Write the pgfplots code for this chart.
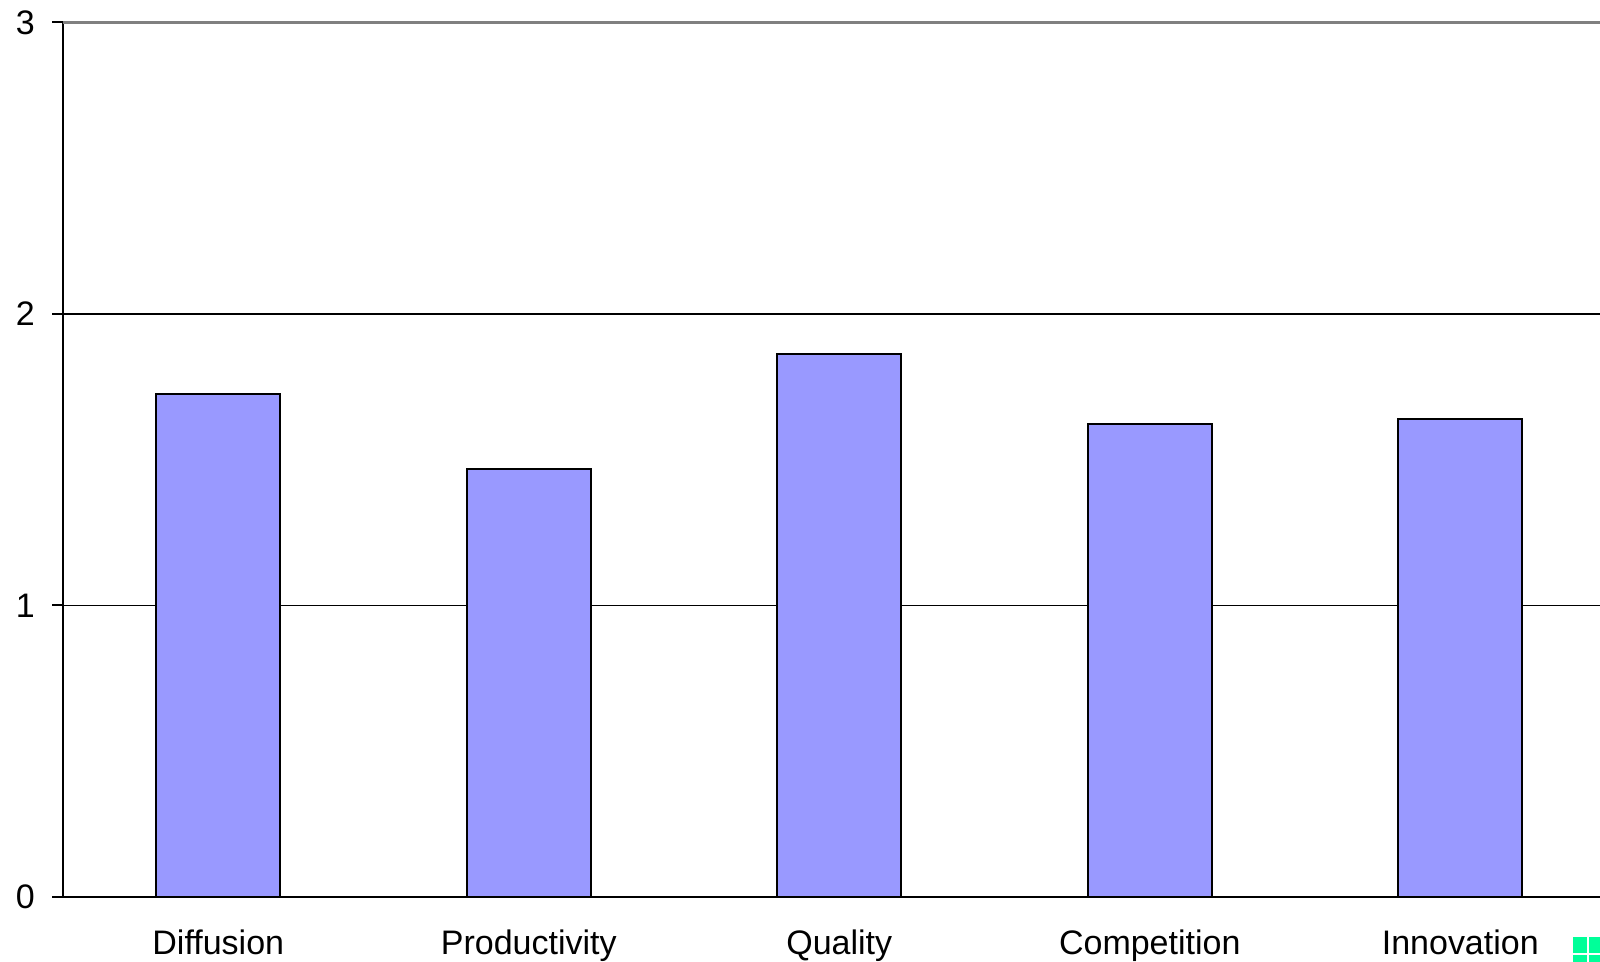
\documentclass[border=0pt]{standalone}
\usepackage{pgfplots}
\pgfplotsset{compat=1.18}
\usepackage{fontspec}
\setmainfont{Liberation Sans}

\definecolor{barfill}{HTML}{9999FF}
\definecolor{keygreen}{HTML}{00FF99}
\definecolor{frame}{HTML}{808080}

\begin{document}
\begin{tikzpicture}
% page size: 1 unit of the layout grid = 0.3pt
\useasboundingbox (0,0) rectangle (480pt,288.6pt);
\begin{axis}[
  at={(18.9pt,19.5pt)}, anchor=south west,
  scale only axis,
  width=461.1pt, height=262.35pt,
  xmin=-0.5, xmax=4.45,
  ymin=0, ymax=3,
  axis lines=left,
  axis line style={-, black, line width=0.6pt},
  clip=false,
  tick label style={font=\fontsize{10.2}{12}\selectfont},
  % category names under the bars
  xtick={0,1,2,3,4},
  xticklabels={Diffusion,Productivity,Quality,Competition,Innovation},
  x tick style={draw=none},
  xticklabel style={anchor=base, inner sep=0pt, yshift=-14.1pt},
  % tick marks at the category boundaries
  extra x ticks={-0.5,0.5,1.5,2.5,3.5},
  extra x tick labels={},
  extra x tick style={tick style={black, line width=0.6pt},
    major tick length=3pt, tick align=outside, grid=none},
  ytick={0,1,2},
  yticklabels={0,1,2},
  extra y ticks={3},
  extra y tick labels={3},
  extra y tick style={grid style={frame, line width=0.7pt}},
  y tick style={black, line width=0.6pt},
  major tick length=3.3pt,
  tick align=outside,
  yticklabel style={anchor=east, inner sep=0pt, xshift=-5pt},
  ymajorgrids=true,
  grid style={black, line width=0.5pt},
]
\addplot[ybar, bar width=0.4, fill=barfill, draw=black, line width=0.65pt]
  coordinates {(0,1.725) (1,1.469) (2,1.862) (3,1.622) (4,1.641)};
\end{axis}
% legend key at the lower right corner
\fill[keygreen] (471.9pt,7.5pt) rectangle (490pt,-5pt);
\draw[white, line width=0.4pt] (476.4pt,7.5pt) -- (476.4pt,-5pt);
\draw[white, line width=0.4pt] (471.9pt,2.4pt) -- (490pt,2.4pt);
\end{tikzpicture}
\end{document}
